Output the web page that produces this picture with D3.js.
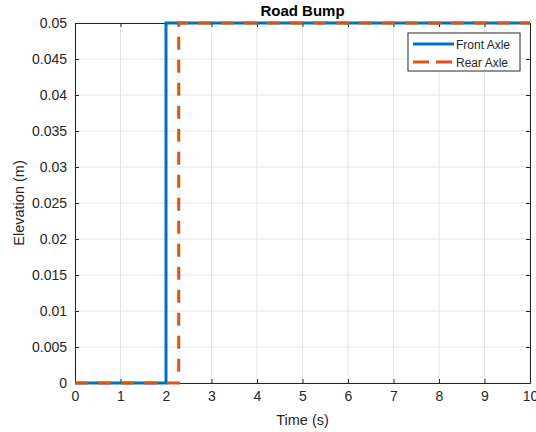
<!DOCTYPE html>
<html>
<head>
<meta charset="utf-8">
<script src="https://cdn.jsdelivr.net/npm/d3@7"></script>
<style>
  body { margin: 0; background: #fff; }
  svg text { font-family: "Liberation Sans", Arial, Helvetica, sans-serif; }
</style>
</head>
<body>
<div id="chart"></div>
<script>
// data
const frontTime = [0, 2, 2, 10];
const frontElev = [0, 0, 0.05, 0.05];
const rearTime = [0, 2.28, 2.28, 10];
const rearElev = [0, 0, 0.05, 0.05];
const xTicks = [0, 1, 2, 3, 4, 5, 6, 7, 8, 9, 10];
const yTicks = [0, 0.005, 0.01, 0.015, 0.02, 0.025, 0.03, 0.035, 0.04, 0.045, 0.05];
const seriesNames = ["Front Axle", "Rear Axle"];

const W = 536, H = 432;
const margin = { top: 23, right: 6, bottom: 49, left: 75 };
const innerW = W - margin.left - margin.right;
const innerH = H - margin.top - margin.bottom;

const axisColor = "#262626";
const gridColor = "#e5e5e5";
const blue = "#0072BD";
const orange = "#D95319";
const dash = "13,10";

const svg = d3.select("#chart").append("svg")
  .attr("width", W)
  .attr("height", H);

const g = svg.append("g")
  .attr("transform", `translate(${margin.left},${margin.top})`);

const x = d3.scaleLinear().domain([0, 10]).range([0, innerW]);
const y = d3.scaleLinear().domain([0, 0.05]).range([innerH, 0]);

// grid
g.append("g").selectAll("line").data(xTicks).join("line")
  .attr("x1", d => x(d)).attr("x2", d => x(d))
  .attr("y1", 0).attr("y2", innerH)
  .attr("stroke", gridColor).attr("stroke-width", 1);
g.append("g").selectAll("line").data(yTicks).join("line")
  .attr("y1", d => y(d)).attr("y2", d => y(d))
  .attr("x1", 0).attr("x2", innerW)
  .attr("stroke", gridColor).attr("stroke-width", 1);

// axes (ticks point inward like matlab)
const fmtY = d => d3.format("")(+d.toFixed(3));
const xAxis = d3.axisBottom(x).tickValues(xTicks).tickSizeInner(-4).tickSizeOuter(0).tickPadding(8);
const yAxis = d3.axisLeft(y).tickValues(yTicks).tickFormat(fmtY).tickSizeInner(-4).tickSizeOuter(0).tickPadding(8);
const xTop = d3.axisTop(x).tickValues(xTicks).tickSizeInner(-4).tickSizeOuter(0).tickFormat("");
const yRight = d3.axisRight(y).tickValues(yTicks).tickSizeInner(-4).tickSizeOuter(0).tickFormat("");

function styleAxis(sel) {
  sel.selectAll("path, line").attr("stroke", axisColor);
  sel.selectAll("text").attr("fill", axisColor).style("font-size", "14px");
}

g.append("g").attr("transform", `translate(0,${innerH})`).call(xAxis).call(styleAxis);
g.append("g").call(yAxis).call(styleAxis);
g.append("g").call(xTop).call(styleAxis);
g.append("g").attr("transform", `translate(${innerW},0)`).call(yRight).call(styleAxis);

// lines
const line = d3.line().x(d => x(d[0])).y(d => y(d[1]));
const frontData = frontTime.map((t, i) => [t, frontElev[i]]);
const rearData = rearTime.map((t, i) => [t, rearElev[i]]);

g.append("path").datum(frontData)
  .attr("d", line)
  .attr("fill", "none")
  .attr("stroke", blue)
  .attr("stroke-width", 3);

g.append("path").datum(rearData)
  .attr("d", line)
  .attr("fill", "none")
  .attr("stroke", orange)
  .attr("stroke-width", 3)
  .attr("stroke-dasharray", dash);

// title and labels
svg.append("text")
  .attr("x", margin.left + innerW / 2)
  .attr("y", 16)
  .attr("text-anchor", "middle")
  .attr("fill", "#000")
  .style("font-size", "15px")
  .style("font-weight", "bold")
  .text("Road Bump");

svg.append("text")
  .attr("x", margin.left + innerW / 2)
  .attr("y", 425)
  .attr("text-anchor", "middle")
  .attr("fill", axisColor)
  .style("font-size", "14.5px")
  .text("Time (s)");

svg.append("text")
  .attr("transform", `translate(24,${margin.top + innerH / 2}) rotate(-90)`)
  .attr("text-anchor", "middle")
  .attr("fill", axisColor)
  .style("font-size", "14.5px")
  .text("Elevation (m)");

// legend
const legend = svg.append("g").attr("transform", "translate(408,33)");
legend.append("rect")
  .attr("width", 112).attr("height", 38)
  .attr("fill", "#fff")
  .attr("stroke", axisColor)
  .attr("stroke-width", 1);

const legendColors = [blue, orange];
const legendDash = [null, "16,7"];
const items = legend.selectAll("g.item").data(seriesNames).join("g")
  .attr("class", "item")
  .attr("transform", (d, i) => `translate(0,${11 + i * 18})`);
items.append("line")
  .attr("x1", 5).attr("x2", 46)
  .attr("stroke", (d, i) => legendColors[i])
  .attr("stroke-width", 3)
  .attr("stroke-dasharray", (d, i) => legendDash[i]);
items.append("text")
  .attr("x", 48).attr("y", 4.5)
  .attr("fill", axisColor)
  .style("font-size", "12px")
  .text(d => d);
</script>
</body>
</html>
